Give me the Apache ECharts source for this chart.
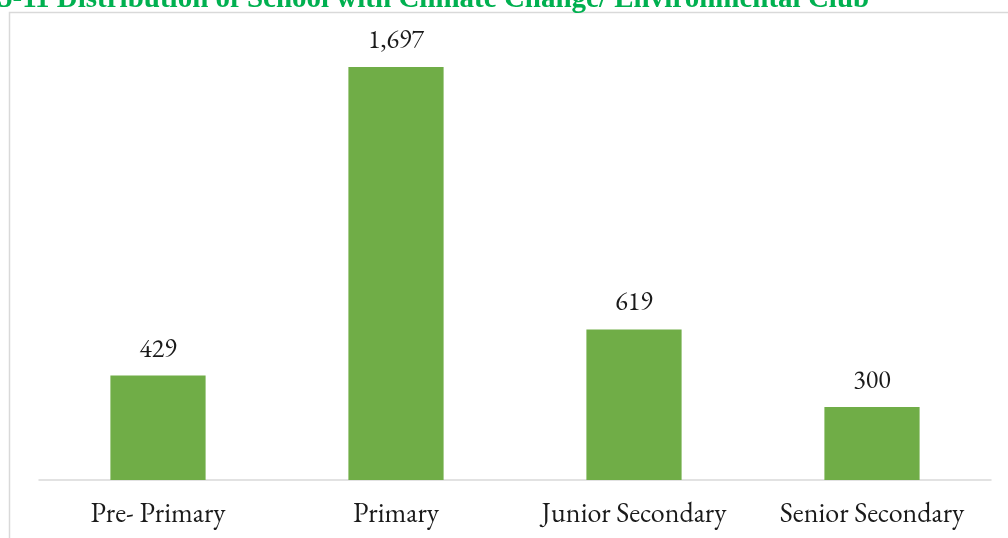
<!DOCTYPE html>
<html>
<head>
<meta charset="utf-8">
<script src="https://cdn.jsdelivr.net/npm/echarts@6/dist/echarts.min.js"></script>
<style>
  html, body { margin: 0; padding: 0; background: #fff; }
  #chart { width: 1008px; height: 538px; }
</style>
</head>
<body>
<div id="chart"></div>
<script>
const titleText = '5-11 Distribution of School with Climate Change/ Environmental Club';
const categories = ['Pre- Primary', 'Primary', 'Junior Secondary', 'Senior Secondary'];
const schools = [429, 1697, 619, 300];

const serif = "Garamond, 'EB Garamond', 'Liberation Serif', 'DejaVu Serif', serif";

const chart = echarts.init(document.getElementById('chart'));
const option = {
    animation: false,
    grid: {
        left: 39,
        right: 17,
        top: 42,
        bottom: 58
    },
    graphic: [
        {
            // frame of the chart area
            type: 'polyline',
            shape: { points: [[9.5, 600], [9.5, 12.5], [1010, 12.5]] },
            style: { stroke: '#d9d9d9', lineWidth: 1.5, fill: null },
            silent: true
        },
        {
            type: 'text',
            left: -2,
            top: -15,
            style: {
                text: titleText,
                fill: '#00b050',
                font: "bold 29px 'Liberation Serif', 'Times New Roman', serif"
            }
        }
    ],
    xAxis: {
        type: 'category',
        data: categories,
        axisLine: { lineStyle: { color: '#d9d9d9', width: 1.5 } },
        axisTick: { show: false },
        axisLabel: {
            interval: 0,
            color: '#1a1a1a',
            fontFamily: serif,
            fontSize: 28,
            margin: 20
        }
    },
    yAxis: {
        type: 'value',
        min: 0,
        max: 1800,
        show: false,
        splitLine: { show: false }
    },
    series: [
        {
            type: 'bar',
            data: schools,
            barWidth: '40%',
            itemStyle: { color: '#70ad47' },
            label: {
                show: true,
                position: 'top',
                distance: 13,
                color: '#1a1a1a',
                fontFamily: serif,
                fontSize: 26,
                formatter: p => p.value.toLocaleString('en-US')
            }
        }
    ]
};
chart.setOption(option);
</script>
</body>
</html>
